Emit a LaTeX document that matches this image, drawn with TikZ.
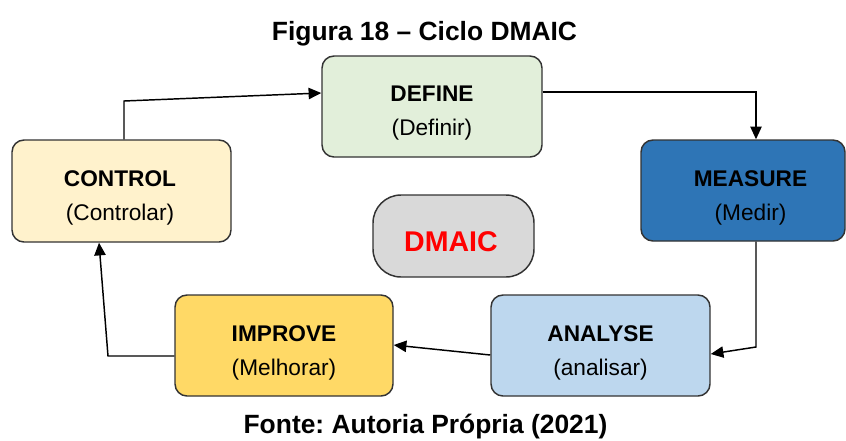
\documentclass[tikz,border=0pt]{standalone}
\usepackage{fontspec}
\setmainfont{Liberation Sans}
\frenchspacing
\usetikzlibrary{arrows.meta}
\definecolor{cdefine}{HTML}{E2EFDA}
\definecolor{ccontrol}{HTML}{FFF2CC}
\definecolor{cmeasure}{HTML}{2E75B6}
\definecolor{canalyse}{HTML}{BDD7EE}
\definecolor{cimprove}{HTML}{FFD966}
\definecolor{cdmaic}{HTML}{D9D9D9}
\definecolor{cborder}{HTML}{333333}
\tikzset{
  stagebox/.style={draw=cborder, line width=1.1pt, rounded corners=9pt,
    minimum width=164pt, minimum height=76pt, inner sep=0pt},
  boxtext/.style={font=\fontsize{17}{25.5}\selectfont, align=center, anchor=base},
  arr/.style={line width=1.1pt, -{Triangle[length=9.5pt,width=8.5pt]}},
  caption/.style={font=\fontsize{19.8}{24}\selectfont\bfseries, anchor=base}
}
\begin{document}
\begin{tikzpicture}[x=0.75pt,y=-0.75pt]
\useasboundingbox[fill=white] (0,0) rectangle (846,440);
\node[caption] (title) at (424.5,40) {Figura 18 – Ciclo DMAIC};
\node[caption] (fonte) at (425.5,433) {Fonte: Autoria Própria (2021)};

\node[stagebox, fill=cdefine, minimum width=165pt, minimum height=75.75pt] (define) at (432,106.5) {};
\node[stagebox, fill=ccontrol, minimum width=164.25pt, minimum height=76.5pt] (control) at (121.5,191) {};
\node[stagebox, fill=cmeasure, minimum width=153pt, minimum height=75.75pt] (measure) at (743,190.5) {};
\node[stagebox, fill=canalyse, minimum width=164.25pt, minimum height=75.75pt] (analyse) at (600.5,345.5) {};
\node[stagebox, fill=cimprove, minimum width=163.5pt, minimum height=75.75pt] (improve) at (284,345.5) {};
\node[draw=cborder, line width=1.1pt, fill=cdmaic, rounded corners=21pt,
  minimum width=120.75pt, minimum height=61.5pt, inner sep=0pt] (dmaic) at (453.5,236) {};

\node[boxtext] (definet) at (432,135) {\bfseries DEFINE\\(Definir)};
\node[boxtext] (controlt) at (120,220) {\bfseries CONTROL\\(Controlar)};
\node[boxtext] (measuret) at (750.5,220) {\bfseries MEASURE\\(Medir)};
\node[boxtext] (analyset) at (600.5,375) {\bfseries ANALYSE\\(analisar)};
\node[boxtext] (improvet) at (284,375) {\bfseries IMPROVE\\(Melhorar)};
\node[font=\fontsize{21.4}{24}\selectfont\bfseries, text=red, anchor=base] (dmaict) at (451,251.5) {DMAIC};

\draw[arr] (control.north -| 124,0) -- (124,101) -- (define.west |- 0,93);
\draw[arr] (define.east |- 0,92) -| (measure.north -| 756,0);
\draw[arr] (measure.south -| 756,0) -- (756,347) -- (analyse.east |- 0,354);
\draw[arr] (analyse.west |- 0,355) -- (improve.east |- 0,345);
\draw[arr] (improve.west |- 0,356) -- (108,356) -- (control.south -| 99,0);
\end{tikzpicture}
\end{document}
